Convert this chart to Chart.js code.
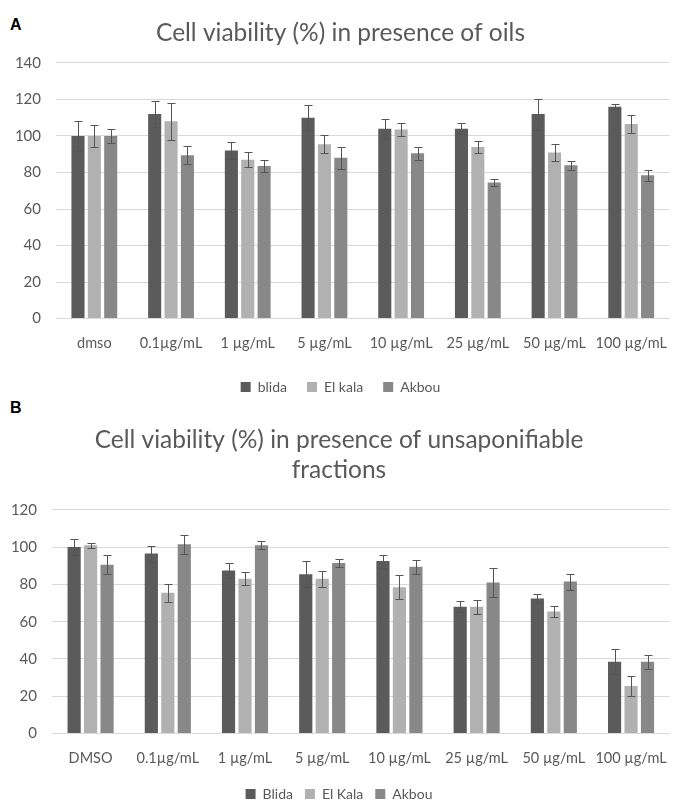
<!DOCTYPE html>
<html lang="en">
<head>
    <meta charset="UTF-8">
    <title>Cell viability</title>
    <script src="https://cdn.jsdelivr.net/npm/chart.js"></script>
    <style>
        body {
            margin: 0;
            background-color: #fff;
            overflow: hidden;
            font-family: Lato, sans-serif;
        }
        .panel {
            position: absolute;
            left: 0;
            width: 675px;
        }
        .tag {
            position: absolute;
            left: 10px;
            font: bold 16px "Liberation Sans", sans-serif;
            color: #000;
        }
    </style>
</head>
<body>
    <div class="tag" style="top:16px;">A</div>
    <div class="tag" style="top:399px;">B</div>
    <div class="panel" style="top:0; height:404px;"><canvas id="chartA"></canvas></div>
    <div class="panel" style="top:395px; height:416px;"><canvas id="chartB"></canvas></div>

    <script>
        // Dados - painel A (óleos)
        var labelsA = ['dmso', '0.1µg/mL', '1 µg/mL', '5 µg/mL', '10 µg/mL', '25 µg/mL', '50 µg/mL', '100 µg/mL'];
        var blidaA = [100, 112, 92, 110, 104, 104, 112, 116];
        var blidaErrA = [8, 7, 4.5, 7, 5.5, 3, 8.5, 1.5];
        var elkalaA = [100, 108, 87, 95.5, 103.5, 94, 91, 106.5];
        var elkalaErrA = [6, 10, 4, 5, 3.5, 3.5, 4.5, 5];
        var akbouA = [100, 89.5, 83.5, 88, 90.5, 74.5, 84, 78.5];
        var akbouErrA = [4, 5, 3.5, 6, 3.5, 2, 2.5, 3];
        var ticksA = [0, 20, 40, 60, 80, 100, 120, 140];

        // Dados - painel B (insaponificáveis)
        var labelsB = ['DMSO', '0.1µg/mL', '1 µg/mL', '5 µg/mL', '10 µg/mL', '25 µg/mL', '50 µg/mL', '100 µg/mL'];
        var blidaB = [100, 96.5, 87.5, 85.5, 92.5, 68, 72.5, 38.5];
        var blidaErrB = [4.5, 4.3, 4, 7, 3.5, 3, 2.5, 6.8];
        var elkalaB = [101, 75.5, 83, 83, 78.5, 68, 65.5, 25.5];
        var elkalaErrB = [1.3, 4.7, 3.5, 4.3, 6.3, 3.7, 3, 5.3];
        var akbouB = [90.5, 101.5, 101, 91.5, 89.5, 81, 81.5, 38.5];
        var akbouErrB = [5, 5, 2, 2, 3.8, 8, 4.3, 3.6];
        var ticksB = [0, 20, 40, 60, 80, 100, 120];

        var corBlida = '#5b5b5b';
        var corElkala = '#b1b1b1';
        var corAkbou = '#888888';
        var corTexto = '#595959';

        // Barras de erro desenhadas pela escala y
        var errorBars = {
            id: 'errorBars',
            afterDatasetsDraw: function(chart) {
                var ctx = chart.ctx;
                var yScale = chart.scales.y;
                ctx.save();
                ctx.strokeStyle = '#555';
                ctx.lineWidth = 1;
                chart.data.datasets.forEach(function(ds, i) {
                    var meta = chart.getDatasetMeta(i);
                    meta.data.forEach(function(bar, j) {
                        var v = ds.data[j];
                        var e = ds.errors[j];
                        var x = Math.round(bar.x) + 0.5;
                        var top = Math.round(yScale.getPixelForValue(v + e)) + 0.5;
                        var bot = Math.round(yScale.getPixelForValue(v - e)) + 0.5;
                        ctx.beginPath();
                        ctx.moveTo(x, top);
                        ctx.lineTo(x, bot);
                        ctx.moveTo(x - 4, top);
                        ctx.lineTo(x + 4, top);
                        ctx.moveTo(x - 4, bot);
                        ctx.lineTo(x + 4, bot);
                        ctx.stroke();
                    });
                });
                ctx.restore();
            }
        };

        function makeChart(id, labels, series, names, yTicks, title, cfg) {
            var colors = [corBlida, corElkala, corAkbou];
            var datasets = series.map(function(s, i) {
                return {
                    label: names[i],
                    data: s[0],
                    errors: s[1],
                    backgroundColor: colors[i],
                    borderWidth: 0,
                    categoryPercentage: 0.64,
                    barPercentage: 0.8
                };
            });
            return new Chart(document.getElementById(id), {
                type: 'bar',
                data: { labels: labels, datasets: datasets },
                plugins: [errorBars],
                options: {
                    responsive: true,
                    maintainAspectRatio: false,
                    animation: false,
                    layout: { padding: cfg.pad },
                    plugins: {
                        title: {
                            display: true,
                            text: title,
                            color: corTexto,
                            font: { family: 'Lato', size: 24.5, weight: 'normal', lineHeight: 1.22 },
                            padding: { top: 0, bottom: cfg.titleGap }
                        },
                        legend: {
                            position: 'bottom',
                            labels: {
                                color: corTexto,
                                font: { family: 'Lato', size: 14 },
                                boxWidth: 10,
                                boxHeight: 10,
                                padding: cfg.legendPad
                            }
                        },
                        tooltip: { enabled: false }
                    },
                    scales: {
                        x: {
                            grid: { display: false },
                            border: { color: '#d9d9d9' },
                            ticks: {
                                color: corTexto,
                                font: { family: 'Lato', size: 14.5 },
                                maxRotation: 0,
                                autoSkip: false,
                                padding: 8
                            }
                        },
                        y: {
                            min: yTicks[0],
                            max: yTicks[yTicks.length - 1],
                            afterBuildTicks: function(axis) {
                                axis.ticks = yTicks.map(function(v) { return { value: v }; });
                            },
                            afterFit: function(axis) {
                                axis.width = cfg.yWidth;
                            },
                            grid: { color: '#d9d9d9', drawTicks: false },
                            border: { display: false },
                            ticks: {
                                color: corTexto,
                                font: { family: 'Lato', size: 15 },
                                padding: 15
                            }
                        }
                    }
                }
            });
        }

        makeChart('chartA', labelsA,
            [[blidaA, blidaErrA], [elkalaA, elkalaErrA], [akbouA, akbouErrA]],
            ['blida', 'El kala', 'Akbou'], ticksA,
            'Cell viability (%) in presence of oils',
            { pad: { top: 18, left: 8, right: 2, bottom: 0 }, titleGap: 15, legendPad: 20, yWidth: 48 });

        makeChart('chartB', labelsB,
            [[blidaB, blidaErrB], [elkalaB, elkalaErrB], [akbouB, akbouErrB]],
            ['Blida', 'El Kala', 'Akbou'], ticksB,
            ['Cell viability (%) in presence of unsaponifiable', 'fractions'],
            { pad: { top: 30, left: 8, right: 5, bottom: 0 }, titleGap: 25, legendPad: 12, yWidth: 44 });
    </script>
</body>
</html>
